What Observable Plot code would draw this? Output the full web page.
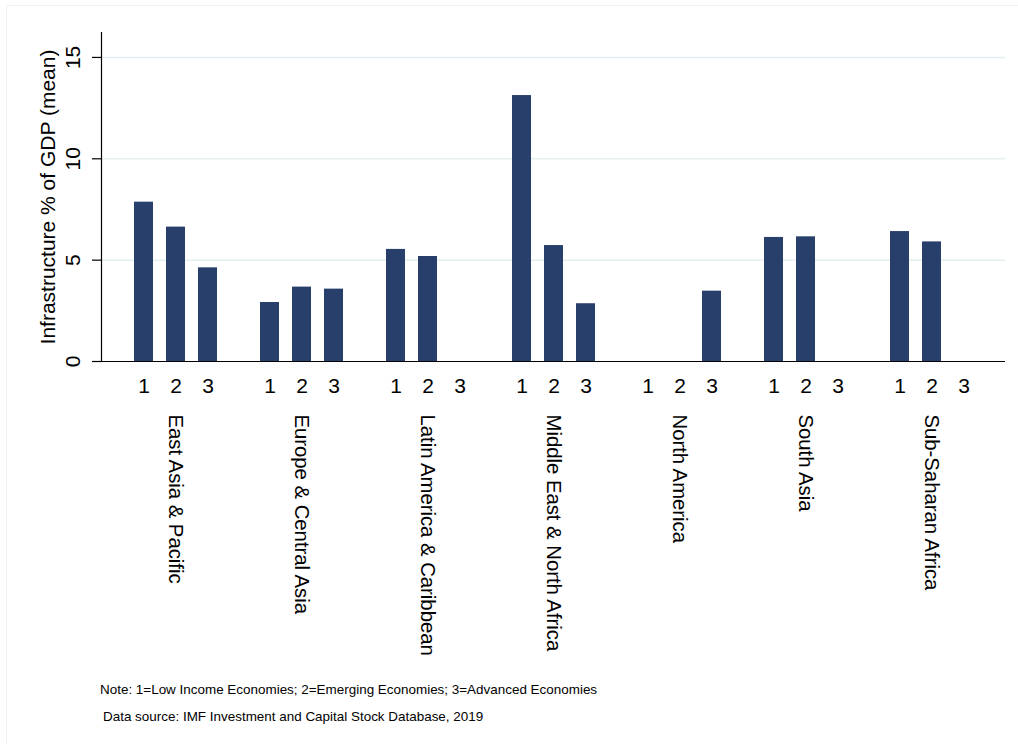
<!DOCTYPE html>
<html>
<head>
<meta charset="utf-8">
<script src="https://cdn.jsdelivr.net/npm/d3@7"></script>
<script src="https://cdn.jsdelivr.net/npm/@observablehq/plot@0.6"></script>
<style>
  html, body { margin: 0; padding: 0; background: #fff; }
  #wrap { position: relative; width: 1018px; height: 744px; overflow: hidden; font-family: "Liberation Sans", Arial, sans-serif; }
  #border { position: absolute; left: 6px; top: 5px; width: 1040px; height: 760px; border: 1.5px solid #edf2f4; box-sizing: border-box; }
  .layer { position: absolute; left: 0; top: 0; }
  .foot { position: absolute; font-size: 13.45px; color: #000; white-space: nowrap; }
</style>
</head>
<body>
<div id="wrap">
  <div id="border"></div>
  <div class="layer" id="grid"></div>
  <div class="layer" id="bars"></div>
  <div class="layer" id="axes"></div>
  <div class="foot" id="note" style="left:100px; top:682px;"></div>
  <div class="foot" id="source" style="left:103px; top:709px;"></div>
</div>
<script>
const regions = ["East Asia & Pacific", "Europe & Central Asia", "Latin America & Caribbean", "Middle East & North Africa", "North America", "South Asia", "Sub-Saharan Africa"];
const groups = ["1", "2", "3"];
const lowIncome = [7.86, 2.91, 5.53, 13.12, null, 6.12, 6.41];
const emerging  = [6.63, 3.67, 5.18, 5.72, null, 6.15, 5.90];
const advanced  = [4.62, 3.57, null, 2.85, 3.47, null, null];
const yTicks = [0, 5, 10, 15];
const gridTicks = [5, 10, 15];
const yTitle = "Infrastructure % of GDP (mean)";
const noteText = "Note: 1=Low Income Economies; 2=Emerging Economies; 3=Advanced Economies";
const sourceText = "Data source: IMF Investment and Capital Stock Database, 2019";

const series = [lowIncome, emerging, advanced];
const rows = [];
regions.forEach((r, i) => {
  groups.forEach((g, j) => {
    const v = series[j][i];
    if (v != null) rows.push({region: r, group: g, value: v});
  });
});

const font = "'Liberation Sans', Arial, sans-serif";
const common = {
  width: 1018,
  height: 665,
  marginTop: 32,
  marginBottom: 304,
  marginLeft: 101,
  marginRight: 13,
  style: {fontFamily: font, background: "transparent", color: "#000"},
  y: {domain: [0, 16.23], axis: null, label: null}
};

// Background layer: horizontal grid lines
const gridPlot = Plot.plot({
  ...common,
  marks: [
    Plot.ruleY(gridTicks, {stroke: "#e4edf0", strokeWidth: 1.5})
  ]
});

// Bars layer: faceted by region
const barPlot = Plot.plot({
  ...common,
  fx: {domain: regions, paddingInner: 0, paddingOuter: 0.085, axis: null, label: null},
  x: {domain: groups, paddingInner: 0.41, paddingOuter: 0.615, axis: null, label: null},
  marks: [
    Plot.barY(rows, {fx: "region", x: "group", y: "value", fill: "#283e6b"}),
    Plot.axisX({anchor: "bottom", tickSize: 0, tickPadding: 17, fontSize: 21, label: null}),
    Plot.text(regions, {fx: d => d, text: d => d, frameAnchor: "bottom", dy: 53, rotate: 90, textAnchor: "start", lineAnchor: "middle", fontSize: 20.3, fill: "#000"})
  ]
});

// Axes layer
const axisPlot = Plot.plot({
  ...common,
  marks: [
    Plot.ruleY([0], {stroke: "#000", strokeWidth: 1.2}),
    Plot.frame({anchor: "left", stroke: "#000", strokeWidth: 1.2}),
    Plot.axisY({ticks: yTicks, tickSize: 9, tickFormat: () => "", stroke: "#000", strokeWidth: 1.2, label: null}),
    Plot.text(yTicks, {y: d => d, text: d => String(d), frameAnchor: "left", dx: -28, rotate: -90, textAnchor: "middle", lineAnchor: "middle", fontSize: 21, fill: "#000"}),
    Plot.text([yTitle], {frameAnchor: "left", dx: -53, rotate: -90, textAnchor: "middle", lineAnchor: "middle", fontSize: 21, fill: "#000"})
  ]
});

document.getElementById("grid").appendChild(gridPlot);
document.getElementById("bars").appendChild(barPlot);
document.getElementById("axes").appendChild(axisPlot);
document.getElementById("note").textContent = noteText;
document.getElementById("source").textContent = sourceText;
</script>
</body>
</html>
